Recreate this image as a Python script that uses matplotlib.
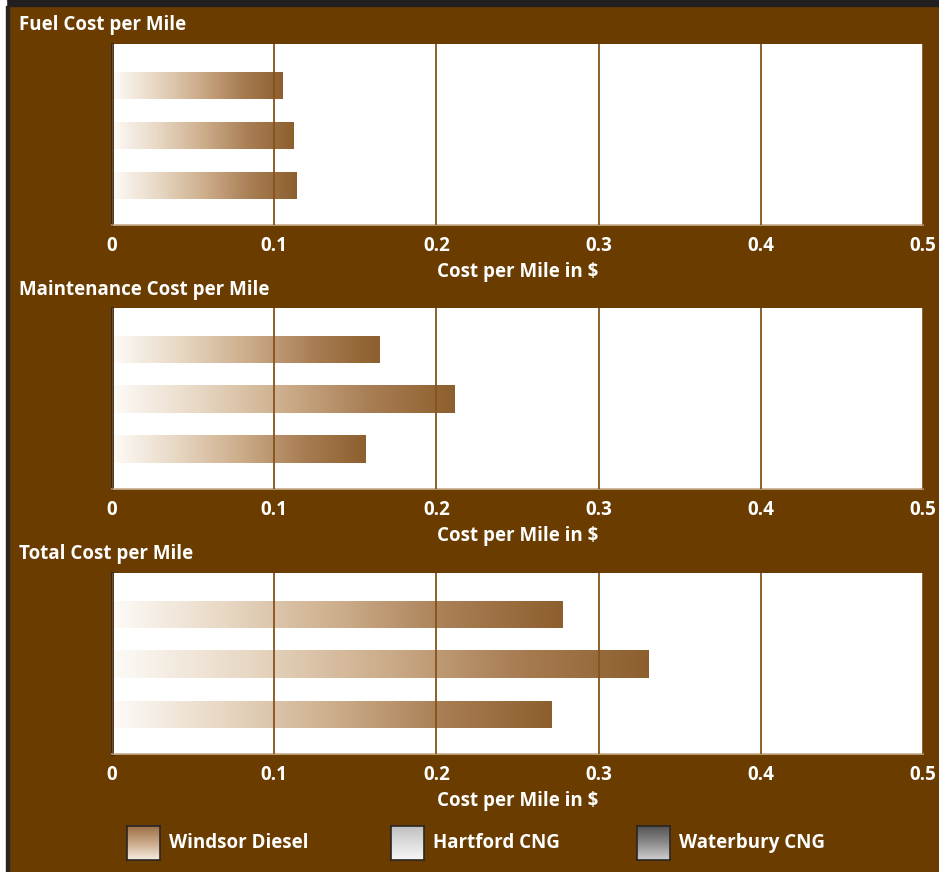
import numpy as np
import matplotlib.pyplot as plt
from matplotlib.colors import LinearSegmentedColormap
from matplotlib.patches import Rectangle

plt.rcParams["font.family"] = ["Open Sans", "DejaVu Sans"]

panel_titles = ["Fuel Cost per Mile", "Maintenance Cost per Mile", "Total Cost per Mile"]
series_names = ["Windsor Diesel", "Hartford CNG", "Waterbury CNG"]
fuel_cost = [0.105, 0.112, 0.114]
maintenance_cost = [0.165, 0.211, 0.156]
total_cost = [0.278, 0.331, 0.271]
x_ticks = [0, 0.1, 0.2, 0.3, 0.4, 0.5]
x_tick_labels = ["0", "0.1", "0.2", "0.3", "0.4", "0.5"]
x_label = "Cost per Mile in $"

BG = "#6b3c00"
W, H = 939, 872

bar_cmap = LinearSegmentedColormap.from_list(
    "bar", ["#fdfbf8", "#e8d8c4", "#cdae8c", "#a97e54", "#8d5f2e"])
legend_cmaps = [
    LinearSegmentedColormap.from_list("w", ["#9a6c42", "#c9a886", "#f6ede3"]),
    LinearSegmentedColormap.from_list("h", ["#bdbdbd", "#dcdcdc", "#f7f7f7"]),
    LinearSegmentedColormap.from_list("b", ["#505050", "#8a8a8a", "#d0d0d0"]),
]

fig = plt.figure(figsize=(W / 100, H / 100), dpi=100, facecolor=BG)


def px_axes(left, top, right, bottom):
    return fig.add_axes([left / W, 1 - bottom / H, (right - left) / W, (bottom - top) / H])


# frame strips at top and left
fig.patches.append(Rectangle((0, 1 - 6 / H), 1, 6 / H, transform=fig.transFigure,
                             color="#231f20", zorder=0))
fig.patches.append(Rectangle((0, 0), 6 / W, 1, transform=fig.transFigure,
                             color="white", zorder=0))
fig.patches.append(Rectangle((6 / W, 0), 2.5 / W, 1 - 6 / H, transform=fig.transFigure,
                             color="#2b2522", zorder=0))

panels = [fuel_cost, maintenance_cost, total_cost]
tops = [44, 308, 573]
title_y = [25, 290, 554]
grad = np.linspace(0, 1, 256).reshape(1, -1)

for values, top, title, ty in zip(panels, tops, panel_titles, title_y):
    ax = px_axes(112, top, 923, top + 181)
    ax.set_facecolor("white")
    for i, v in enumerate(values):
        ax.imshow(grad, extent=[0, v, i + 0.27, i - 0.27], aspect="auto",
                  cmap=bar_cmap, interpolation="bilinear", zorder=1)
    ax.set_xlim(0, 0.5)
    ax.set_ylim(2.79, -0.83)
    ax.set_xticks(x_ticks)
    ax.set_xticklabels(x_tick_labels)
    ax.set_yticks([])
    ax.grid(axis="x", color="#86521c", lw=1.3, zorder=3)
    ax.set_axisbelow(False)
    ax.tick_params(axis="x", length=0, pad=8, labelcolor="white", labelsize=13.5)
    for lab in ax.get_xticklabels():
        lab.set_fontweight("bold")
    ax.set_xlabel(x_label, color="white", fontsize=13.5, fontweight="bold", labelpad=4)
    for s in ["top", "right"]:
        ax.spines[s].set_visible(False)
    ax.spines["left"].set_color("#2b2522")
    ax.spines["left"].set_linewidth(2)
    ax.spines["bottom"].set_color("#c8ad8c")
    ax.spines["bottom"].set_linewidth(1.2)
    fig.text(19 / W, 1 - ty / H, title, color="white", fontsize=13.5,
             fontweight="bold", va="center", ha="left")

# legend swatches
swatch_x = [127, 391, 637]
vgrad = np.linspace(0, 1, 256).reshape(-1, 1)
for sx, name, cm in zip(swatch_x, series_names, legend_cmaps):
    sax = px_axes(sx, 826, sx + 33, 860)
    sax.imshow(vgrad, aspect="auto", cmap=cm, interpolation="bilinear")
    sax.set_xticks([])
    sax.set_yticks([])
    for s in sax.spines.values():
        s.set_color("#2b2522")
        s.set_linewidth(1.2)
    fig.text((sx + 42) / W, 1 - 843 / H, name, color="white", fontsize=13.5,
             fontweight="bold", va="center", ha="left")

fig.savefig("out.png", dpi=100, facecolor=BG)
